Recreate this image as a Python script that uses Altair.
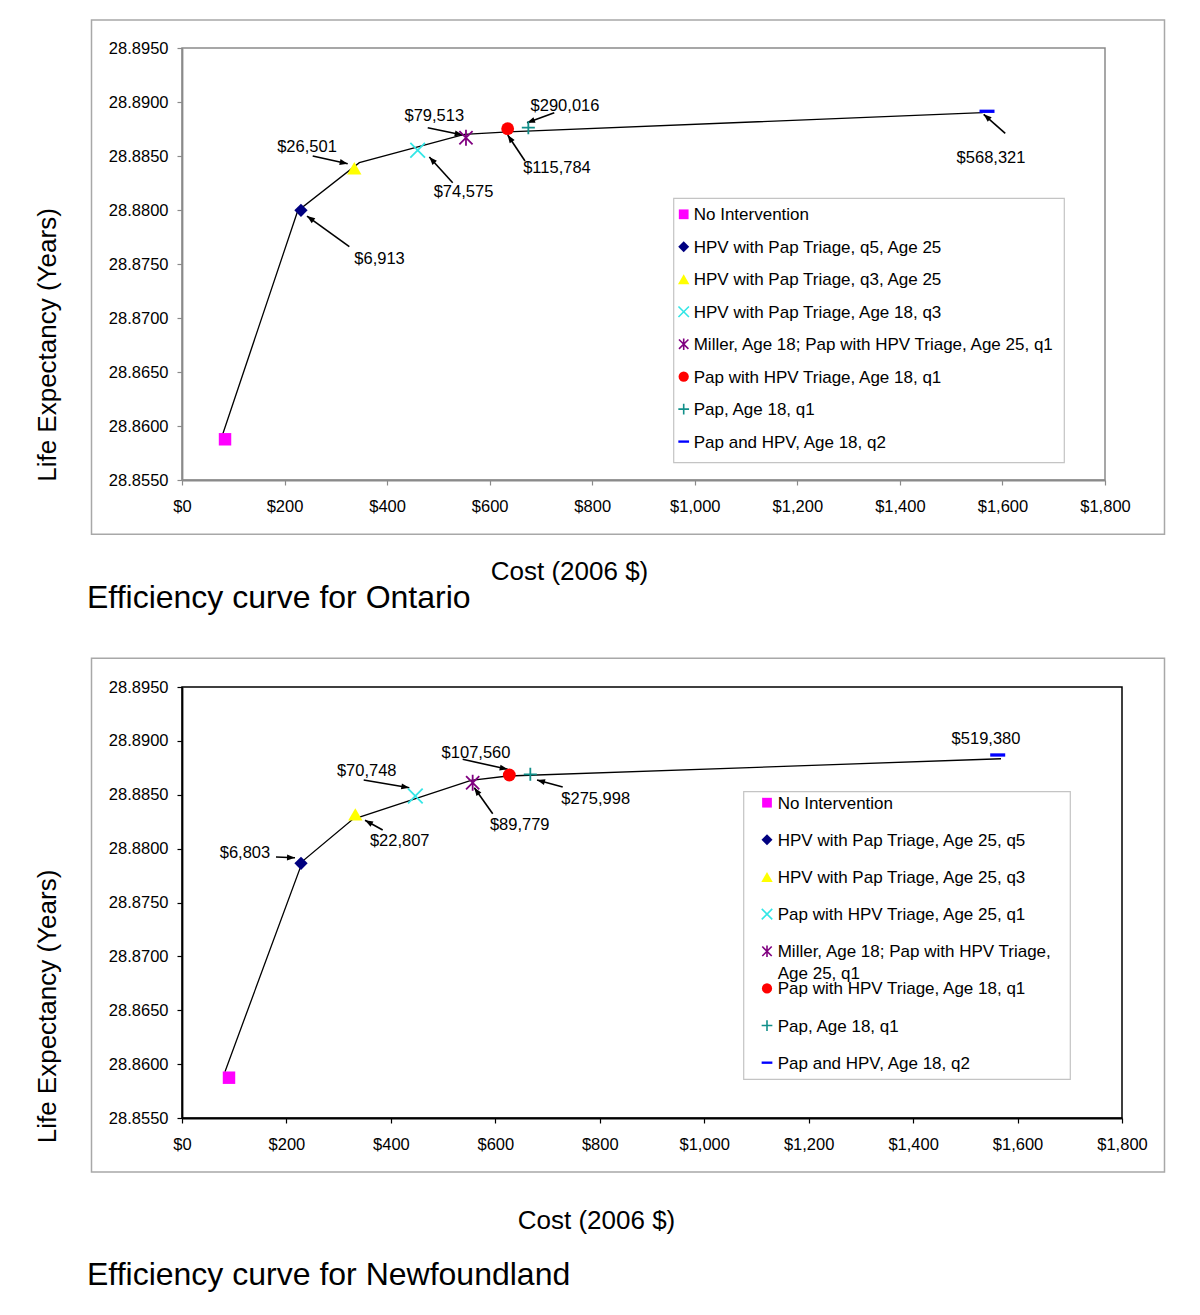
import math
import altair as alt
import pandas as pd

FONT = "Liberation Sans"

# ---------------- shared legend styling per category (index order) ----------------
colors = ["#FF00FF", "#000080", "#FFFF00", "#33E6E6", "#800080", "#FF0000", "#12908A", "#0000FF"]
shapes = [
    "square",
    "diamond",
    "triangle-up",
    "M-1,-1L1,1M-1,1L1,-1",
    "M-0.9,-0.9L0.9,0.9M-0.9,0.9L0.9,-0.9M0,-1.1L0,1.1",
    "circle",
    "M-1,0L1,0M0,-1L0,1",
    "M-1,-0.22L1,-0.22L1,0.22L-1,0.22Z",
]
filled_flags = [True, True, True, False, False, True, False, True]
marker_sizes = [155, 177, 205, 215, 215, 165, 170, 225]
legend_sizes = [95, 120, 130, 110, 110, 105, 115, 115]
ARROW = "M0,0L-0.6,1.6L0.6,1.6Z"

# ---------------- Ontario ----------------
on_names = [
    "No Intervention",
    "HPV with Pap Triage, q5, Age 25",
    "HPV with Pap Triage, q3, Age 25",
    "HPV with  Pap Triage, Age 18, q3",
    "Miller, Age 18; Pap with HPV Triage, Age 25, q1",
    "Pap with HPV Triage, Age 18, q1",
    "Pap, Age 18, q1",
    "Pap and HPV, Age 18, q2",
]
on_cost = [83.9, 232.0, 336.0, 459.6, 553.8, 635.1, 675.4, 1569.9]
on_life = [28.85877, 28.87997, 28.88386, 28.88553, 28.88669, 28.88753, 28.88762, 28.88914]
on_line_cost = [76.1, 225.6, 345.8, 550.5, 628.0, 1561.5]
on_line_life = [28.85877, 28.87991, 28.88438, 28.88701, 28.88722, 28.88901]
on_lab_text = ["$26,501", "$79,513", "$290,016", "$74,575", "$115,784", "$6,913", "$568,321"]
on_lab_cost = [243.8, 492.0, 746.9, 549.0, 731.3, 385.2, 1577.7]
on_lab_life = [28.88583, 28.88866, 28.88963, 28.88164, 28.88392, 28.87546, 28.88481]
on_tail_cost = [254.9, 479.2, 726.0, 527.9, 668.9, 326.3, 1605.5]
on_tail_life = [28.88500, 28.88762, 28.88901, 28.88253, 28.88454, 28.87660, 28.88710]
on_head_cost = [323.1, 547.4, 672.8, 482.3, 635.2, 243.8, 1563.4]
on_head_life = [28.88429, 28.88694, 28.88808, 28.88491, 28.88694, 28.87944, 28.88886]

# ---------------- Newfoundland ----------------
nf_names = [
    "No Intervention",
    "HPV with Pap Triage, Age 25, q5",
    "HPV with Pap Triage, Age 25, q3",
    "Pap with HPV Triage, Age 25, q1",
    "Miller, Age 18; Pap with HPV Triage, Age 25, q1",
    "Pap with HPV Triage, Age 18, q1",
    "Pap, Age 18, q1",
    "Pap and HPV, Age 18, q2",
]
nf_cost = [90.0, 227.9, 331.9, 446.8, 556.6, 626.8, 667.0, 1562.0]
nf_life = [28.85874, 28.87864, 28.88318, 28.88488, 28.88611, 28.88683, 28.88690, 28.88869]
nf_line_cost = [82.3, 231.1, 326.9, 553.4, 623.7, 1568.3]
nf_line_life = [28.85930, 28.87885, 28.88272, 28.88634, 28.88674, 28.88834]
nf_lab_text = ["$6,803", "$70,748", "$22,807", "$107,560", "$89,779", "$275,998", "$519,380"]
nf_lab_cost = [120.6, 353.7, 416.9, 563.0, 646.7, 792.2, 1539.6]
nf_lab_life = [28.87957, 28.88720, 28.88071, 28.88890, 28.88219, 28.88465, 28.89020]
nf_tail_cost = [180.0, 347.9, 384.3, 537.5, 595.0, 729.0]
nf_tail_life = [28.87922, 28.88637, 28.88173, 28.88829, 28.88324, 28.88572]
nf_head_cost = [216.4, 435.3, 350.4, 623.7, 559.7, 679.8]
nf_head_life = [28.87916, 28.88565, 28.88263, 28.88736, 28.88565, 28.88637]

x_ticks = list(range(0, 1801, 200))
y_ticks = [round(28.855 + 0.005 * i, 4) for i in range(9)]
X_MAX = 1800
Y_MIN, Y_MAX = 28.855, 28.895


def panel(names, cost, life, line_cost, line_life, lab_text, lab_cost, lab_life,
          tail_cost, tail_life, head_cost, head_life, W, H, axis_color, frame, legend,
          xtitle_pos, ytitle_pos, caption, caption_pos, wrap=False, anchor=False):
    one = pd.DataFrame({"k": [0]})
    xs = alt.Scale(domain=[0, X_MAX], nice=False, zero=False)
    ys = alt.Scale(domain=[Y_MIN, Y_MAX], nice=False, zero=False)
    xaxis = alt.Axis(values=x_ticks, format="$,.0f", labelFont=FONT, labelFontSize=16.5,
                     labelColor="black", labelPadding=13, tickSize=5, tickColor=axis_color,
                     tickWidth=1.2, domainColor=axis_color, domainWidth=1.8, grid=False,
                     labelFlush=False, labelOverlap=False, title="Cost (2006 $)",
                     titleFont=FONT, titleFontSize=26, titleFontWeight="normal",
                     titleColor="black", titleX=xtitle_pos[0], titleY=xtitle_pos[1],
                     titleAlign="center", titleBaseline="middle")
    yaxis = alt.Axis(values=y_ticks, format=".4f", labelFont=FONT, labelFontSize=16.5,
                     labelColor="black", labelPadding=9, tickSize=5, tickColor=axis_color,
                     tickWidth=1.2, domainColor=axis_color, domainWidth=1.8, grid=False,
                     labelFlush=False, labelOverlap=False, title="Life Expectancy (Years)",
                     titleFont=FONT, titleFontSize=26, titleFontWeight="normal",
                     titleColor="black", titleX=ytitle_pos[0], titleY=ytitle_pos[1],
                     titleAngle=270, titleAlign="center", titleBaseline="middle")

    def X(f):
        return alt.X(f"{f}:Q", scale=xs, axis=xaxis)

    def Y(f):
        return alt.Y(f"{f}:Q", scale=ys, axis=yaxis)

    cs = alt.Scale(domain=names, range=colors)
    ss = alt.Scale(domain=names, range=shapes)

    labels = [n.replace("Triage, Age 25, q1", "Triage,\nAge 25, q1") if (wrap and n.startswith("Miller")) else n
              for n in names]
    pts = pd.DataFrame({"name": names, "cost": cost, "life": life, "filled": filled_flags,
                        "sz": marker_sizes, "lsz": legend_sizes, "row": list(range(len(names))),
                        "label": labels})
    line_df = pd.DataFrame({"cost": line_cost, "life": line_life, "i": list(range(len(line_cost)))})
    lab_df = pd.DataFrame({"t": lab_text, "c": lab_cost, "l": lab_life})
    px_c = W / X_MAX
    px_l = H / (Y_MAX - Y_MIN)
    angs = []
    for tc, tl, hc, hl in zip(tail_cost, tail_life, head_cost, head_life):
        dx = (hc - tc) * px_c
        dy = -(hl - tl) * px_l
        angs.append(math.degrees(math.atan2(dx, -dy)) % 360)
    arr_df = pd.DataFrame({"tc": tail_cost, "tl": tail_life, "hc": head_cost, "hl": head_life, "ang": angs})

    layers = []
    if anchor:
        layers.append(alt.Chart(one).mark_rect(color="white").encode(
            x=alt.value(-173), x2=alt.value(-166), y=alt.value(-39), y2=alt.value(-33)))
    # outer chart frame
    layers.append(alt.Chart(one).mark_rect(fillOpacity=0, stroke="#a8a8a8", strokeWidth=1.5).encode(
        x=alt.value(frame[0]), x2=alt.value(frame[1]), y=alt.value(frame[2]), y2=alt.value(frame[3])))
    # caption
    layers.append(alt.Chart(one).mark_text(text=caption, font=FONT, fontSize=32, align="left",
                                           baseline="alphabetic", color="black").encode(
        x=alt.value(caption_pos[0]), y=alt.value(caption_pos[1])))
    # efficiency frontier
    layers.append(alt.Chart(line_df).mark_line(color="black", strokeWidth=1.3).encode(
        x=X("cost"), y=Y("life"), order=alt.Order("i:Q")))
    # arrows
    layers.append(alt.Chart(arr_df).mark_rule(color="black", strokeWidth=1.6).encode(
        x=X("tc"), y=Y("tl"), x2="hc:Q", y2="hl:Q"))
    layers.append(alt.Chart(arr_df).mark_point(shape=ARROW, filled=True, color="black", opacity=1,
                                               size=100).encode(
        x=X("hc"), y=Y("hl"), angle=alt.Angle("ang:Q", scale=None)))
    # points
    base = alt.Chart(pts)
    col = alt.Color("name:N", scale=cs, legend=None)
    shp = alt.Shape("name:N", scale=ss, legend=None)
    layers.append(base.transform_filter("datum.filled").mark_point(filled=True, opacity=1).encode(
        x=X("cost"), y=Y("life"), color=col, shape=shp, size=alt.Size("sz:Q", scale=None)))
    layers.append(base.transform_filter("!datum.filled").mark_point(filled=False, opacity=1,
                                                                     strokeWidth=1.8).encode(
        x=X("cost"), y=Y("life"), color=col, shape=shp, size=alt.Size("sz:Q", scale=None)))
    # legend box
    bx0, bx1, by0, by1, sym_x, txt_x, row0, step = legend
    layers.append(alt.Chart(one).mark_rect(fill="white", stroke="#c4c4c4", strokeWidth=1.2).encode(
        x=alt.value(bx0), x2=alt.value(bx1), y=alt.value(by0), y2=alt.value(by1)))
    leg = base.transform_calculate(ly=f"{row0} + datum.row * {step}", ty=f"{row0} + datum.row * {step} + 6")
    ly = alt.Y("ly:Q", scale=None, axis=None)
    layers.append(leg.transform_filter("datum.filled").mark_point(filled=True, opacity=1).encode(
        x=alt.value(sym_x), y=ly, color=col, shape=shp, size=alt.Size("lsz:Q", scale=None)))
    layers.append(leg.transform_filter("!datum.filled").mark_point(filled=False, opacity=1,
                                                                    strokeWidth=1.6).encode(
        x=alt.value(sym_x), y=ly, color=col, shape=shp, size=alt.Size("lsz:Q", scale=None)))
    layers.append(leg.mark_text(font=FONT, fontSize=17, align="left", baseline="alphabetic",
                                color="black", lineBreak="\n", lineHeight=21.5).encode(
        x=alt.value(txt_x), y=alt.Y("ty:Q", scale=None, axis=None), text="label:N"))
    # annotation labels
    layers.append(alt.Chart(lab_df).mark_text(font=FONT, fontSize=16.5, align="center",
                                              baseline="middle", color="black").encode(
        x=X("c"), y=Y("l"), text="t:N"))

    return alt.layer(*layers).properties(
        width=W, height=H,
        view=alt.ViewBackground(stroke=axis_color, strokeWidth=1.5, fill="white"))


top = panel(on_names, on_cost, on_life, on_line_cost, on_line_life, on_lab_text, on_lab_cost,
            on_lab_life, on_tail_cost, on_tail_life, on_head_cost, on_head_life,
            W=923, H=432, axis_color="#8a8a8a",
            frame=(-90.5, 982.5, -28, 486.3),
            legend=(491.7, 882.3, 150.3, 414.7, 501.7, 511.7, 166.3, 32.47),
            xtitle_pos=(387, 91), ytitle_pos=(-135, 296.5),
            caption="Efficiency curve for Ontario", caption_pos=(-95, 560), anchor=True)

bottom = panel(nf_names, nf_cost, nf_life, nf_line_cost, nf_line_life, nf_lab_text, nf_lab_cost,
               nf_lab_life, nf_tail_cost, nf_tail_life, nf_head_cost, nf_head_life,
               W=940, H=431, axis_color="#000000",
               frame=(-90.5, 982.5, -28.7, 485),
               legend=(561.7, 888.3, 104.7, 392.3, 585, 595.7, 115.7, 37.14),
               xtitle_pos=(414, 102), ytitle_pos=(-135, 319),
               caption="Efficiency curve for Newfoundland", caption_pos=(-95, 598), wrap=True)

chart = alt.vconcat(top, bottom, spacing=207, bounds="flush").resolve_scale(
    x="independent", y="independent", color="independent", shape="independent"
).properties(
    padding={"left": 0, "top": 0, "right": 0, "bottom": 0}
).configure(background="white")

chart.save("out.html", embed_options={"renderer": "svg", "actions": False})
